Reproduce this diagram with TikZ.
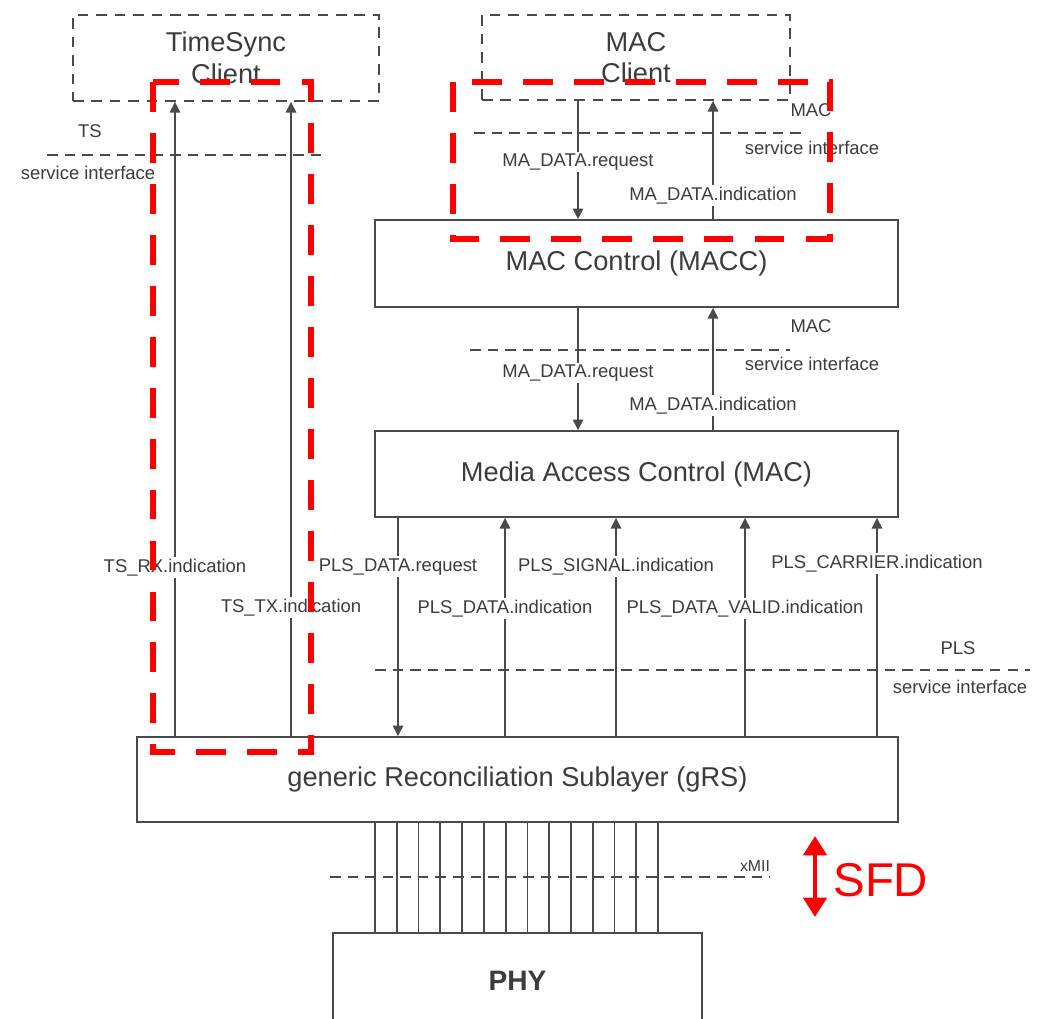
\documentclass[tikz,border=0pt]{standalone}
\usepackage{fontspec}
\setmainfont{Liberation Sans}
\usetikzlibrary{arrows.meta}

\definecolor{linegray}{HTML}{4A4A4A}
\definecolor{textgray}{HTML}{3C3C3C}
\definecolor{markred}{HTML}{FF0000}

\tikzset{
	layer/.style = {draw = linegray, line width = 1.1pt, inner sep = 0pt, text = textgray, font = \fontsize{15.5}{18}\selectfont},
	client/.style = {layer, dash pattern = on 6pt off 4.5pt, align = center},
	arr/.style = {draw = linegray, line width = 0.8pt, -{Triangle[length = 6pt, width = 6pt]}},
	lbl/.style = {fill = white, inner sep = 1pt, text = textgray, font = \fontsize{10.5}{12}\selectfont},
	iface/.style = {draw = linegray, line width = 0.9pt, dash pattern = on 6pt off 4pt},
	ifacetext/.style = {inner sep = 0pt, text = textgray, font = \fontsize{10.5}{12}\selectfont},
	redbox/.style = {draw = markred, line width = 3.5pt, dash pattern = on 17pt off 12pt}
}

\begin{document}
\begin{tikzpicture}[x = 0.02cm, y = -0.02cm]

	\useasboundingbox (0, 0) rectangle (1038, 1018);
	\clip (0, 0) rectangle (1038, 1018);

	% Layers and clients
	
	\node [client, minimum width = 6.12cm, minimum height = 1.72cm] (tsc) at (226, 58) {TimeSync\\Client};
	\node [client, minimum width = 6.16cm, minimum height = 1.7cm] (mcl) at (636, 57.5) {MAC\\Client};
	\node [layer, minimum width = 10.46cm, minimum height = 1.74cm] (macc) at (636.5, 263.5) {MAC Control (MACC)};
	\node [layer, minimum width = 10.46cm, minimum height = 1.72cm] (mac) at (636.5, 474) {Media Access Control (MAC)};
	\node [layer, minimum width = 15.22cm, minimum height = 1.7cm] (grs) at (517.5, 779.5) {generic Reconciliation Sublayer (gRS)};
	\node [layer, minimum width = 7.38cm, minimum height = 1.9cm, font = \fontsize{16}{19}\selectfont\bfseries] (phy) at (517.5, 980.5) {PHY};
	
	% Service interfaces
	
	\draw [iface] (47, 155) -- (323, 155);
	\draw [iface] (474, 133) -- (803, 133);
	\draw [iface] (470, 350) -- (790, 350);
	\draw [iface] (375, 670) -- (1030, 670);
	\draw [iface] (330, 877) -- (770, 877);
	
	\node [ifacetext] (tsname) at (90, 131) {TS};
	\node [ifacetext] (tsif) at (88, 173) {service interface};
	\node [ifacetext] (macname) at (811, 110) {MAC};
	\node [ifacetext] (macif) at (812, 148) {service interface};
	\node [ifacetext] (maccname) at (811, 326) {MAC};
	\node [ifacetext] (maccif) at (812, 364) {service interface};
	\node [ifacetext] (plsname) at (958, 648) {PLS};
	\node [ifacetext] (plsif) at (960, 687) {service interface};
	\node [ifacetext, font = \fontsize{9}{10}\selectfont] (xmii) at (755, 866) {xMII};
	
	% Primitive columns
	
	\coordinate (xrx) at (175, 0);
	\coordinate (xtx) at (291, 0);
	\coordinate (xreq) at (578, 0);
	\coordinate (xind) at (713, 0);
	\coordinate (xpreq) at (398, 0);
	\coordinate (xpdata) at (505, 0);
	\coordinate (xpsig) at (616, 0);
	\coordinate (xpvalid) at (745, 0);
	\coordinate (xpcar) at (877, 0);
	
	% Primitives
	
	\draw [arr] (grs.north -| xrx) -- node [lbl, pos = 0.266] (rxlbl) {TS\_RX.indication} (tsc.south -| xrx);
	\draw [arr] (grs.north -| xtx) -- node [lbl, pos = 0.203] (txlbl) {TS\_TX.indication} (tsc.south -| xtx);
	
	\draw [arr] (mcl.south -| xreq) -- node [lbl, pos = 0.517] (req1) {MA\_DATA.request} (macc.north -| xreq);
	\draw [arr] (macc.north -| xind) -- node [lbl, pos = 0.2] (ind1) {MA\_DATA.indication} (mcl.south -| xind);
	\draw [arr] (macc.south -| xreq) -- node [lbl, pos = 0.532] (req2) {MA\_DATA.request} (mac.north -| xreq);
	\draw [arr] (mac.north -| xind) -- node [lbl, pos = 0.2] (ind2) {MA\_DATA.indication} (macc.south -| xind);
	
	\draw [arr] (mac.south -| xpreq) -- node [lbl, pos = 0.223] (preq) {PLS\_DATA.request} (grs.north -| xpreq);
	\draw [arr] (grs.north -| xpdata) -- node [lbl, pos = 0.586] (pdata) {PLS\_DATA.indication} (mac.south -| xpdata);
	\draw [arr] (grs.north -| xpsig) -- node [lbl, pos = 0.777] (psig) {PLS\_SIGNAL.indication} (mac.south -| xpsig);
	\draw [arr] (grs.north -| xpvalid) -- node [lbl, pos = 0.586] (pvalid) {PLS\_DATA\_VALID.indication} (mac.south -| xpvalid);
	\draw [arr] (grs.north -| xpcar) -- node [lbl, pos = 0.791] (pcar) {PLS\_CARRIER.indication} (mac.south -| xpcar);
	
	% xMII bus
	
	\foreach \i in {0, ..., 13} {
		\coordinate (bus\i) at ({375 + 21.77 * \i}, 0);
		\draw [draw = linegray, line width = 1pt] (grs.south -| bus\i) -- (phy.north -| bus\i);
	}
	
	% Highlights
	
	\draw [redbox] (153, 82) rectangle (311, 752);
	\draw [redbox] (453, 82) rectangle (830, 239);
	
	\coordinate (sfdtop) at (815, 836);
	\coordinate (sfdbot) at (815, 917);
	\draw [draw = markred, line width = 2.8pt, {Triangle[length = 11pt, width = 13pt]}-{Triangle[length = 11pt, width = 13pt]}] (sfdtop) -- (sfdbot);
	\node [inner sep = 0pt, anchor = west, text = markred, font = \fontsize{27}{30}\selectfont] (sfd) at (833, 880) {SFD};
	
\end{tikzpicture}
\end{document}
